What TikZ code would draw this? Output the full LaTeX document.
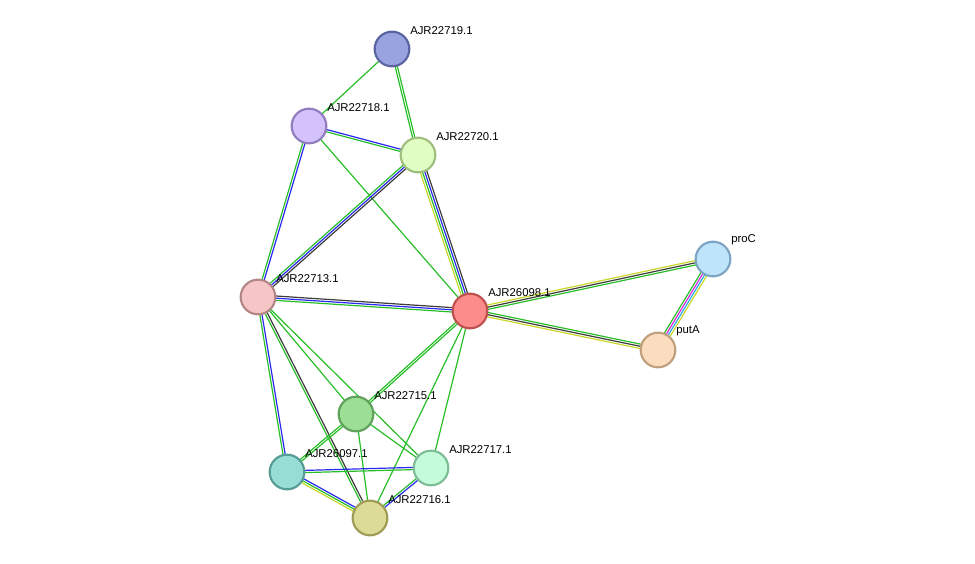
\documentclass[tikz,border=0pt]{standalone}
\usepackage{fontspec}
\setmainfont{Liberation Sans}
\usetikzlibrary{calc}
\definecolor{eg}{RGB}{40,190,40}
\definecolor{eb}{RGB}{40,40,240}
\definecolor{ek}{RGB}{60,60,60}
\definecolor{ey}{RGB}{200,215,40}
\definecolor{em}{RGB}{220,40,220}
\definecolor{ec}{RGB}{40,170,230}
\tikzset{
 prot/.style={circle,draw,line width=1.6pt,minimum size=35\pgflinewidth*0+26pt,inner sep=0pt},
 lab/.style={anchor=south west,font=\fontsize{8.5pt}{9pt}\selectfont,inner sep=0pt},
}
\newcommand{\medge}[3]{%
 \foreach \c [count=\i] in {#3}{\pgfmathsetmacro{\o}{(\i-1-(#3count-1)/2)*1.65}}%
}
\newcommand{\ed}[4]{% a b n colorlist
 \foreach \c [count=\i] in {#4}{%
  \pgfmathsetmacro{\o}{(\i-1-(#3-1)/2)*1.65}%
  \draw[\c,line width=0.9pt] ($(#1)!\o pt!90:(#2)$) -- ($(#2)!\o pt!-90:(#1)$);}}
\begin{document}
\begin{tikzpicture}[x=0.75pt,y=-0.75pt]
\useasboundingbox (0,0) rectangle (975,564);
\coordinate (n19) at (392,49);
\coordinate (n18) at (309,126);
\coordinate (n20) at (418,155);
\coordinate (n13) at (258,297);
\coordinate (n98) at (470,311);
\coordinate (pc) at (713,259);
\coordinate (pa) at (658,350);
\coordinate (n15) at (356,414);
\coordinate (n97) at (287,472);
\coordinate (n17) at (431,468);
\coordinate (n16) at (370,518);
\ed{n19}{n18}{1}{eg}
\ed{n19}{n20}{2}{eg,eg}
\ed{n18}{n20}{2}{eg,eb}
\ed{n18}{n13}{2}{eg,eb}
\ed{n18}{n98}{1}{eg}
\ed{n20}{n13}{3}{eg,eb,ek}
\ed{n20}{n98}{4}{ey,eg,eb,ek}
\ed{n13}{n98}{3}{eg,eb,ek}
\ed{n13}{n15}{1}{eg}
\ed{n13}{n97}{2}{eg,eb}
\ed{n13}{n17}{1}{eg}
\ed{n13}{n16}{2}{eg,ek}
\ed{n98}{n15}{2}{eg,eg}
\ed{n98}{n17}{1}{eg}
\ed{n98}{n16}{1}{eg}
\ed{n98}{pc}{3}{eg,ek,ey}
\ed{n98}{pa}{3}{ey,ek,eg}
\ed{pc}{pa}{4}{eg,em,ec,ey}
\ed{n15}{n97}{2}{eg,eg}
\ed{n15}{n17}{1}{eg}
\ed{n15}{n16}{1}{eg}
\ed{n97}{n17}{2}{eg,eb}
\ed{n97}{n16}{3}{ey,eg,eb}
\ed{n17}{n16}{2}{eg,eb}
\node[prot,fill={rgb,255:red,152;green,163;blue,224},draw={rgb,255:red,90;green,100;blue,160}] (a19) at (n19) {};
\node[prot,fill={rgb,255:red,211;green,194;blue,252},draw={rgb,255:red,145;green,125;blue,190}] (a18) at (n18) {};
\node[prot,fill={rgb,255:red,224;green,253;blue,196},draw={rgb,255:red,160;green,190;blue,125}] (a20) at (n20) {};
\node[prot,fill={rgb,255:red,246;green,198;blue,198},draw={rgb,255:red,180;green,135;blue,135}] (a13) at (n13) {};
\node[prot,fill={rgb,255:red,252;green,140;blue,140},draw={rgb,255:red,190;green,80;blue,80}] (a98) at (n98) {};
\node[prot,fill={rgb,255:red,190;green,228;blue,252},draw={rgb,255:red,125;green,165;blue,195}] (apc) at (pc) {};
\node[prot,fill={rgb,255:red,252;green,220;blue,190},draw={rgb,255:red,190;green,160;blue,125}] (apa) at (pa) {};
\node[prot,fill={rgb,255:red,156;green,222;blue,148},draw={rgb,255:red,95;green,160;blue,90}] (a15) at (n15) {};
\node[prot,fill={rgb,255:red,152;green,220;blue,214},draw={rgb,255:red,85;green,155;blue,150}] (a97) at (n97) {};
\node[prot,fill={rgb,255:red,196;green,252;blue,218},draw={rgb,255:red,125;green,190;blue,150}] (a17) at (n17) {};
\node[prot,fill={rgb,255:red,221;green,220;blue,150},draw={rgb,255:red,160;green,155;blue,85}] (a16) at (n16) {};
\node[lab] (l19) at ($(n19)+(18,-14)$) {AJR22719.1};
\node[lab] (l18) at ($(n18)+(18,-14)$) {AJR22718.1};
\node[lab] (l20) at ($(n20)+(18,-14)$) {AJR22720.1};
\node[lab] (l13) at ($(n13)+(18,-14)$) {AJR22713.1};
\node[lab] (l98) at ($(n98)+(18,-14)$) {AJR26098.1};
\node[lab] (lpc) at ($(pc)+(18,-14)$) {proC};
\node[lab] (lpa) at ($(pa)+(18,-14)$) {putA};
\node[lab] (l15) at ($(n15)+(18,-14)$) {AJR22715.1};
\node[lab] (l97) at ($(n97)+(18,-14)$) {AJR26097.1};
\node[lab] (l17) at ($(n17)+(18,-14)$) {AJR22717.1};
\node[lab] (l16) at ($(n16)+(18,-14)$) {AJR22716.1};
\end{tikzpicture}
\end{document}
